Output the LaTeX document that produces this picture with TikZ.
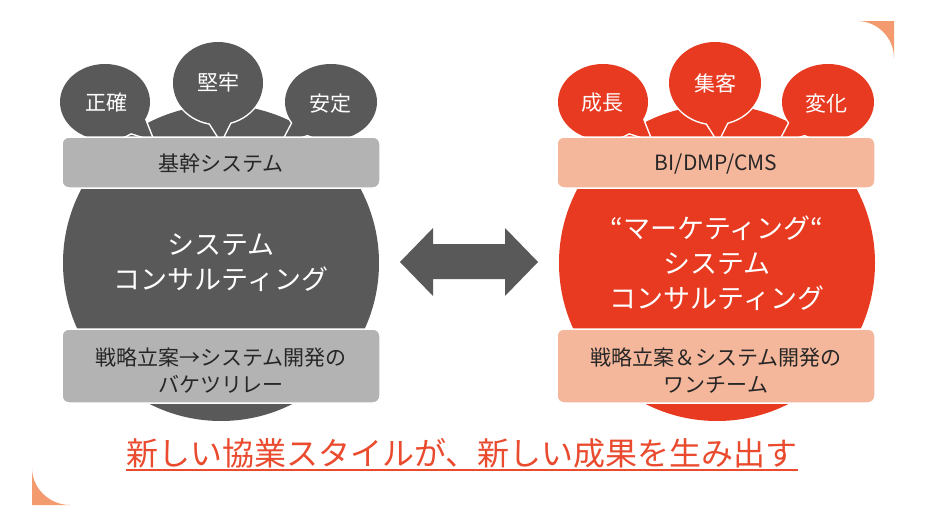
\documentclass[tikz,border=0pt]{standalone}
\usepackage{fontspec}
\setmainfont{Noto Sans CJK JP}
\definecolor{dkgray}{HTML}{595959}
\definecolor{ltgray}{HTML}{B3B3B3}
\definecolor{mkred}{HTML}{E73A21}
\definecolor{salmon}{HTML}{F4B79B}
\definecolor{cornerorange}{HTML}{F39A6E}
\definecolor{slogred}{HTML}{EA4A2E}
\definecolor{txtdark}{HTML}{262626}
\tikzset{
  bigcircle/.style={circle, minimum size=316pt, inner sep=0pt, text=white, align=center,
    font=\fontsize{27}{35}\selectfont},
  bubbleline/.style={draw=white, line width=3pt},
  bubbletext/.style={text=white, font=\fontsize{21}{25}\selectfont, inner sep=0pt},
  barbox/.style={rectangle, rounded corners=7pt, draw=white, line width=1.5pt,
    minimum width=318pt, inner sep=0pt},
  bartext/.style={text=txtdark, align=center, font=\fontsize{21}{27}\selectfont, inner sep=0pt},
}
\begin{document}
\begin{tikzpicture}[x=1pt,y=-1pt]
\useasboundingbox (0,0) rectangle (930,522);
\fill[white] (0,0) rectangle (930,522);

% corner decorations
\fill[cornerorange] (857,21) -- (894,21) -- (894,58) .. controls (894,37.6) and (877.4,21) .. (857,21) -- cycle;
\fill[cornerorange] (32,468) -- (32,505) -- (70,505) .. controls (49.6,505) and (32,488.4) .. (32,468) -- cycle;

% ===== left group =====
\node[bigcircle, fill=dkgray] (lcircle) at (221,263) {システム\\コンサルティング};

% bubbles (outline then fill)
\path[bubbleline] (105,102) ellipse[x radius=45pt, y radius=38pt];
\path[bubbleline] (128,132) -- (153,140) -- (144,117) -- cycle;
\path[bubbleline] (218,83) ellipse[x radius=45pt, y radius=41pt];
\path[bubbleline] (209,122) -- (221,141) -- (232,119) -- cycle;
\path[bubbleline] (331,102) ellipse[x radius=46pt, y radius=38pt];
\path[bubbleline] (293,122) -- (282,143) -- (310,134) -- cycle;
\fill[dkgray] (105,102) ellipse[x radius=45pt, y radius=38pt];
\fill[dkgray] (128,132) -- (153,140) -- (144,117) -- cycle;
\fill[dkgray] (218,83) ellipse[x radius=45pt, y radius=41pt];
\fill[dkgray] (209,122) -- (221,141) -- (232,119) -- cycle;
\fill[dkgray] (331,102) ellipse[x radius=46pt, y radius=38pt];
\fill[dkgray] (293,122) -- (282,143) -- (310,134) -- cycle;
\node[bubbletext] (lb1) at (106,103) {正確};
\node[bubbletext] (lb2) at (218,83) {堅牢};
\node[bubbletext] (lb3) at (330,104) {安定};

\node[barbox, fill=ltgray, minimum height=51pt] (ltop) at (221,162.5) {};
\node[bartext] (ltoptext) at (221,164) {基幹システム};
\node[barbox, fill=ltgray, minimum height=74pt] (lbot) at (221,366) {};
\node[bartext] (lbottext) at (221,371) {戦略立案→システム開発の\\バケツリレー};

% ===== arrow =====
\fill[dkgray] (400,262) -- (433,228) -- (433,244) -- (505,244) -- (505,228) -- (538,262)
  -- (505,296) -- (505,279) -- (433,279) -- (433,296) -- cycle;

% ===== right group =====
\node[bigcircle, fill=mkred] (rcircle) at (717,263) {“マーケティング“\\システム\\コンサルティング};

\path[bubbleline] (603,102) ellipse[x radius=45pt, y radius=38pt];
\path[bubbleline] (626,132) -- (651,140) -- (642,117) -- cycle;
\path[bubbleline] (715,83) ellipse[x radius=46pt, y radius=41pt];
\path[bubbleline] (706,122) -- (718,141) -- (729,119) -- cycle;
\path[bubbleline] (828,102) ellipse[x radius=46pt, y radius=38pt];
\path[bubbleline] (790,122) -- (779,143) -- (807,134) -- cycle;
\fill[mkred] (603,102) ellipse[x radius=45pt, y radius=38pt];
\fill[mkred] (626,132) -- (651,140) -- (642,117) -- cycle;
\fill[mkred] (715,83) ellipse[x radius=46pt, y radius=41pt];
\fill[mkred] (706,122) -- (718,141) -- (729,119) -- cycle;
\fill[mkred] (828,102) ellipse[x radius=46pt, y radius=38pt];
\fill[mkred] (790,122) -- (779,143) -- (807,134) -- cycle;
\node[bubbletext] (rb1) at (602,103) {成長};
\node[bubbletext] (rb2) at (715,83) {集客};
\node[bubbletext] (rb3) at (826,104) {変化};

\node[barbox, fill=salmon, minimum height=51pt] (rtop) at (716,162.5) {};
\node[bartext] (rtoptext) at (716,164) {BI/DMP/CMS};
\node[barbox, fill=salmon, minimum height=74pt] (rbot) at (716,366) {};
\node[bartext] (rbottext) at (716,371) {戦略立案＆システム開発の\\ワンチーム};

% ===== slogan =====
\node[anchor=base, inner sep=0pt, text=slogred, font=\fontsize{32}{36}\selectfont] (slogan) at (462,465)
  {新しい協業スタイルが、新しい成果を生み出す};
\draw[slogred, line width=1.5pt] ([yshift=-5pt]slogan.base west) -- ([yshift=-5pt]slogan.base east);
\end{tikzpicture}
\end{document}
